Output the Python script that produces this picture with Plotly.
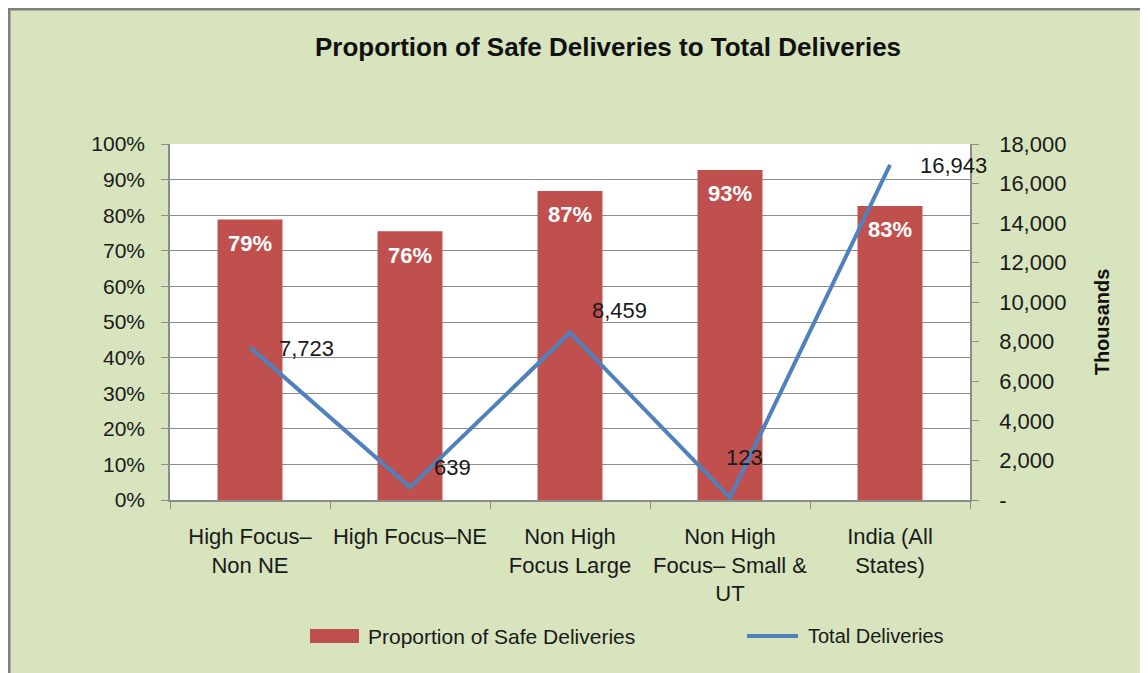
import plotly.graph_objects as go

categories = ["High Focus–<br>Non NE", "High Focus–NE", "Non High<br>Focus Large",
              "Non High<br>Focus– Small &<br>UT", "India (All<br>States)"]
safe_prop = [0.788, 0.755, 0.868, 0.927, 0.826]
safe_labels = ["79%", "76%", "87%", "93%", "83%"]
total_deliveries = [7723, 639, 8459, 123, 16943]
total_labels = ["7,723", "639", "8,459", "123", "16,943"]
# pixel offsets of the line data labels, relative to their points
label_dx = [27, 22, 20, -6, 28]
label_dy = [-1, 20, 22, 40, -1]

y2_ticks = [0, 2000, 4000, 6000, 8000, 10000, 12000, 14000, 16000, 18000]
y2_ticktext = ["-", "2,000", "4,000", "6,000", "8,000", "10,000", "12,000", "14,000", "16,000", "18,000"]

FONT = "Liberation Sans"
GREEN = "#D7E4BD"
GRAY = "#8C8C8C"
TXT = "#1a1a1a"

# plot area geometry (pixels in figure)
L, T, PW, PH = 162, 136, 800, 356
W, H = 1140, 665

fig = go.Figure()
fig.add_trace(go.Bar(
    x=categories, y=safe_prop, name="Proportion of Safe Deliveries",
    marker=dict(color="#C0504D", line=dict(width=0)), width=0.406,
    showlegend=False, hoverinfo="y",
))
fig.add_trace(go.Scatter(
    x=categories, y=total_deliveries, name="Total Deliveries", yaxis="y2",
    mode="lines", line=dict(color="#4F81BD", width=4), showlegend=False,
    cliponaxis=False,
))

annotations = []
for c, v, t in zip(categories, safe_prop, safe_labels):
    annotations.append(dict(x=c, y=v, xref="x", yref="y", text=f"<b>{t}</b>",
                            showarrow=False, yanchor="middle", yshift=-24,
                            font=dict(color="white", size=22, family=FONT)))
for c, v, t, dx, dy in zip(categories, total_deliveries, total_labels, label_dx, label_dy):
    annotations.append(dict(x=c, y=v, xref="x", yref="y2", text=t, showarrow=False,
                            xanchor="left", yanchor="middle", xshift=dx, yshift=dy,
                            font=dict(color=TXT, size=22, family=FONT)))

# custom legend
def px(xp):
    return (xp - 8 - L) / PW

def py(yp):
    return (T + PH - (yp - 8)) / PH

annotations += [
    dict(x=px(366), y=py(636), xref="paper", yref="paper", xanchor="left", yanchor="middle",
         text="Proportion of Safe Deliveries", showarrow=False,
         font=dict(size=21, color=TXT, family=FONT)),
    dict(x=px(806), y=py(636), xref="paper", yref="paper", xanchor="left", yanchor="middle",
         text="Total Deliveries", showarrow=False,
         font=dict(size=20, color=TXT, family=FONT)),
]

top_edge = 1 + T / PH
left_edge = -L / PW

shapes = [
    dict(type="rect", xref="paper", yref="paper", x0=px(310), x1=px(359),
         y0=py(643), y1=py(629), fillcolor="#C0504D", line=dict(width=0)),
    dict(type="line", xref="paper", yref="paper", x0=px(747), x1=px(798),
         y0=py(636), y1=py(636), line=dict(color="#4F81BD", width=4)),
    dict(type="line", xref="paper", yref="paper", x0=left_edge, x1=2,
         y0=top_edge - 1 / PH, y1=top_edge - 1 / PH,
         line=dict(color="#7F7F7F", width=3), layer="above"),
    dict(type="line", xref="paper", yref="paper", x0=left_edge + 1 / PW, x1=left_edge + 1 / PW,
         y0=-2, y1=top_edge, line=dict(color="#7F7F7F", width=3), layer="above"),
]

fig.update_layout(
    width=W, height=H,
    margin=dict(l=L, r=W - L - PW, t=T, b=H - T - PH, autoexpand=False),
    paper_bgcolor=GREEN, plot_bgcolor="white",
    font=dict(family=FONT, color=TXT, size=21),
    title=dict(text="<b>Proportion of Safe Deliveries to Total Deliveries</b>",
               x=600 / W, xanchor="center", y=1 - 39 / H, yanchor="middle",
               font=dict(size=26, color="#111111", family=FONT)),
    showlegend=False,
    xaxis=dict(range=[-0.5, 4.5], autorange=False, showline=True, linecolor=GRAY,
               linewidth=1.5, ticks="outside", tickson="boundaries", ticklen=7,
               tickcolor=GRAY, tickfont=dict(size=22, color=TXT), showgrid=False,
               tickangle=0, ticklabelstandoff=16, automargin=False),
    yaxis=dict(range=[0, 1], dtick=0.1, tickformat=".0%", showline=True,
               linecolor=GRAY, linewidth=1.5, ticks="outside", ticklen=7,
               tickcolor=GRAY, showgrid=True, gridcolor=GRAY, gridwidth=1,
               zeroline=False, tickfont=dict(size=21, color=TXT),
               ticklabelstandoff=12, automargin=False),
    yaxis2=dict(range=[0, 18000], overlaying="y", side="right", tickvals=y2_ticks,
                ticktext=y2_ticktext, showline=True, linecolor=GRAY, linewidth=1.5,
                ticks="outside", ticklen=7, tickcolor=GRAY, showgrid=False,
                zeroline=False, tickfont=dict(size=22, color=TXT),
                ticklabelstandoff=16, automargin=False,
                title=dict(text="<b>Thousands</b>", font=dict(size=20, color="#111111"),
                           standoff=30)),
    annotations=annotations,
    shapes=shapes,
)

fig.write_html("out.html")
